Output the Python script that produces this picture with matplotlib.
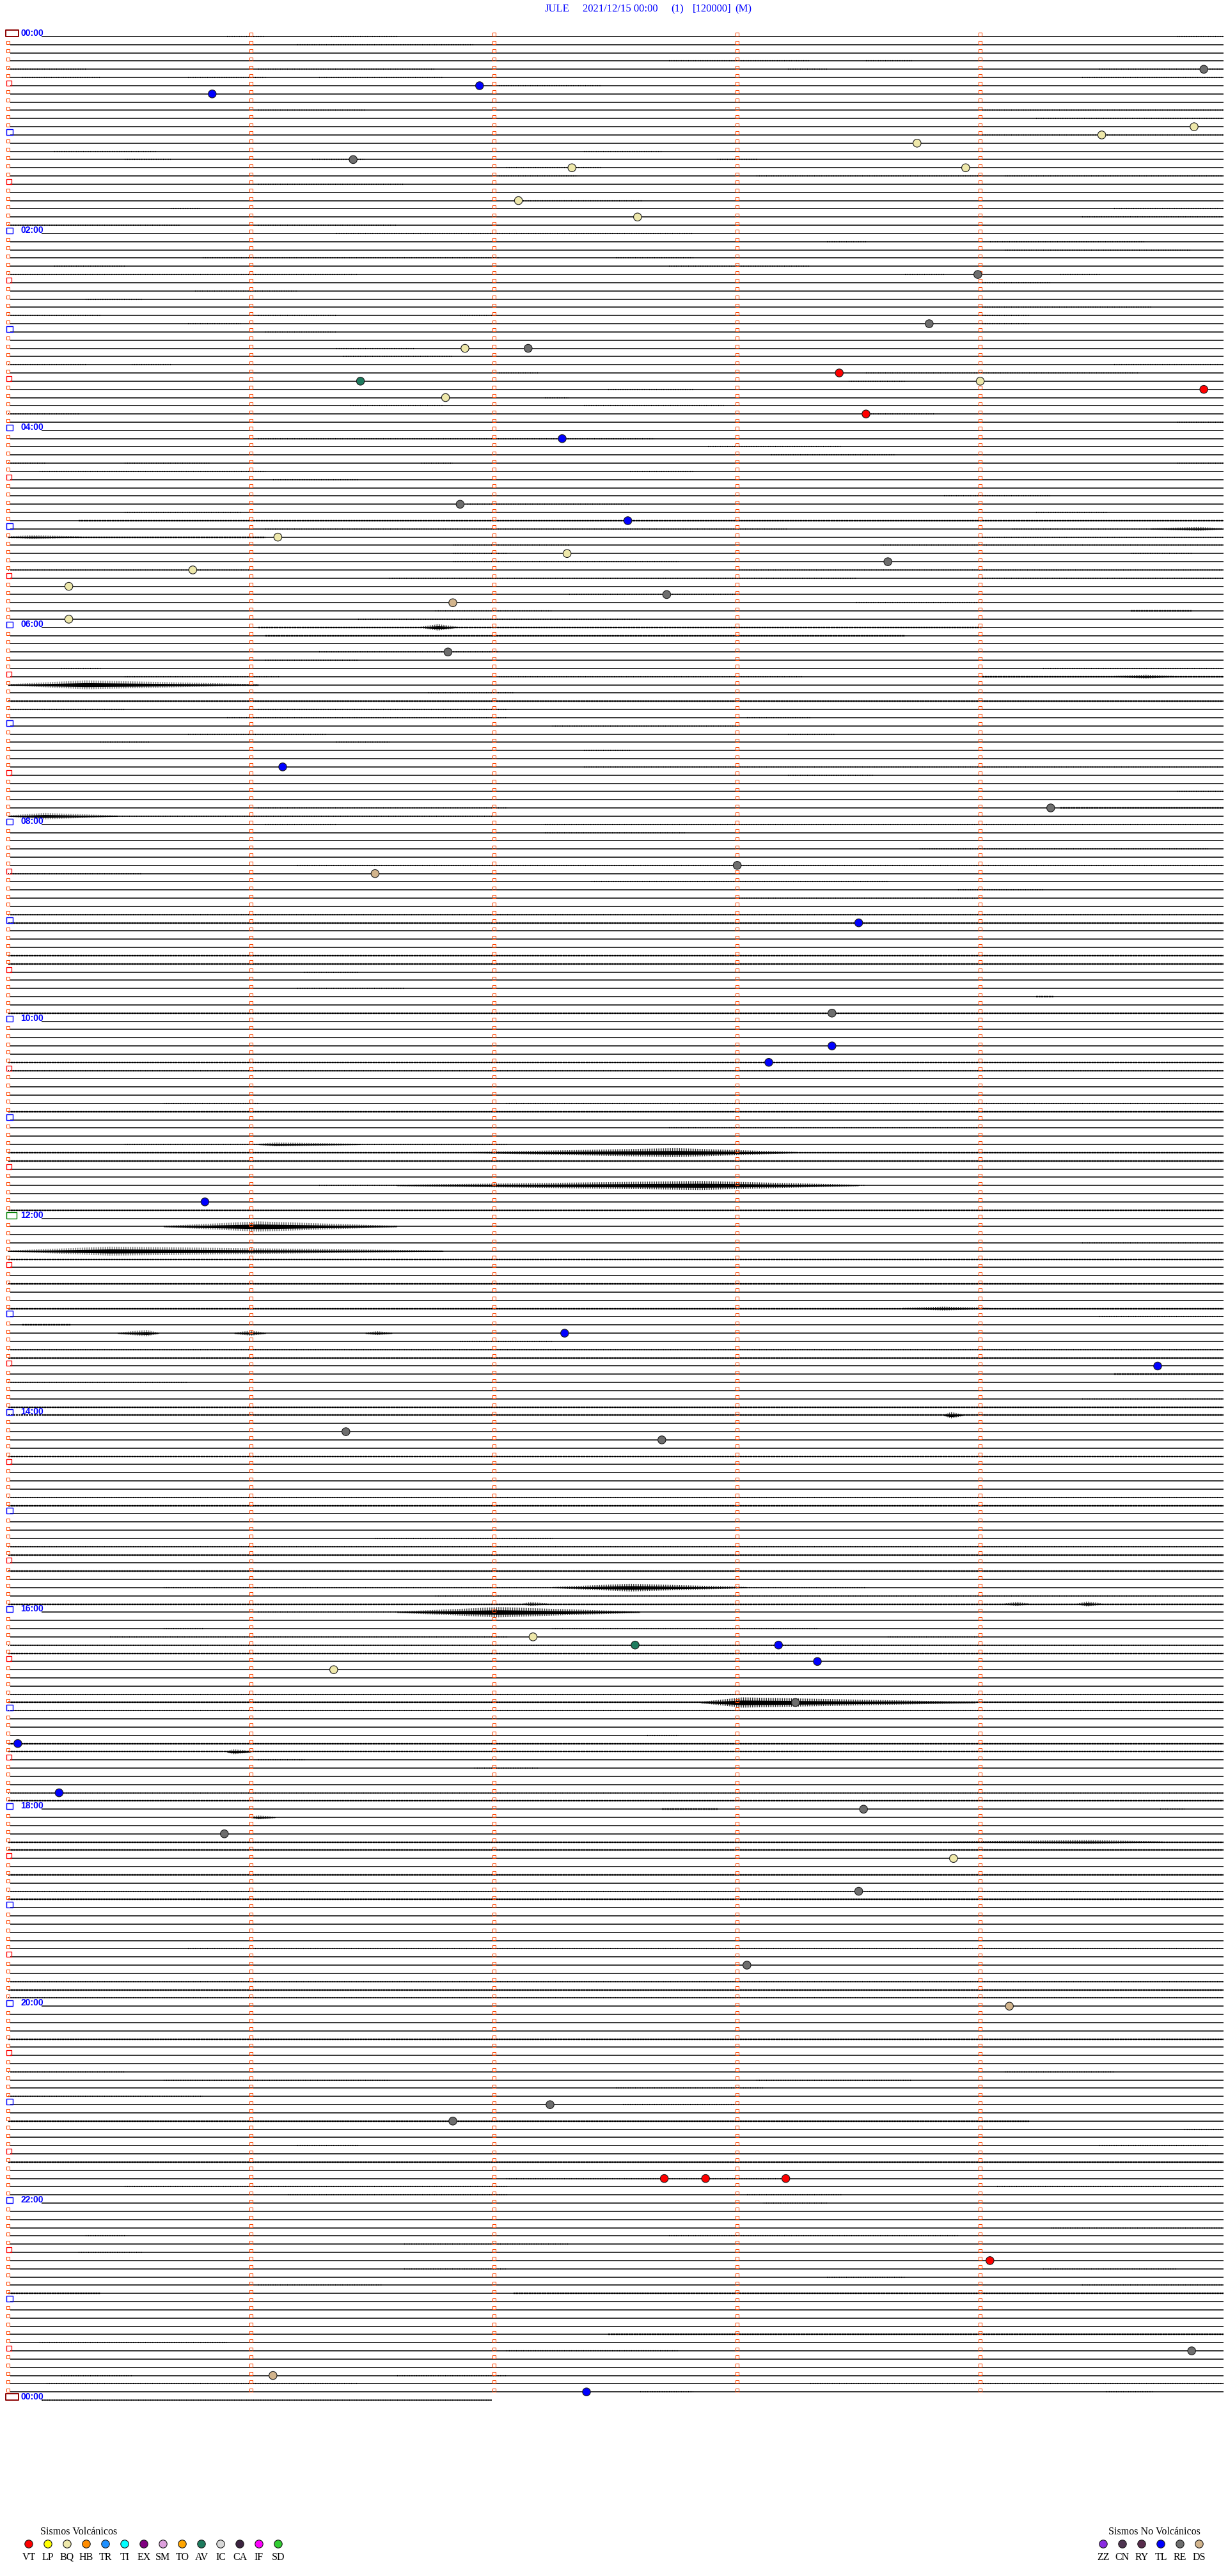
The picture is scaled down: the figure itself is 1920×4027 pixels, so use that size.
import matplotlib
matplotlib.use("Agg")
import matplotlib.pyplot as plt
from matplotlib.collections import LineCollection, PatchCollection
from matplotlib.patches import Rectangle

# --- page geometry (pixels) ---
W, H, DPI = 1920, 4027, 100
X0, MIN_W = 12.6, 380.0      # x of minute 0, pixels per minute
Y0, LINE_H = 57.0, 12.83     # y of first trace, pixels per 5-minute trace
N_LINES = 289                # 00:00 .. 24:00, one trace every 5 min

# --- events: trace index, minute inside the trace, class ---
ev_line = [4, 6, 7, 11, 12, 13, 15, 16, 16, 20, 22, 29, 35, 38, 38, 41, 42, 42, 43, 44, 46, 49, 57,
           59, 61, 63, 64, 65, 67, 68, 69, 71, 75, 89, 94, 101, 102, 108,
           119, 123, 125, 142, 158, 162, 170, 171,
           195, 196, 196, 198, 199, 203, 208, 214, 216, 219, 222, 226,
           235, 240, 252, 254, 261, 261, 261, 271, 282, 285, 287]
ev_min = [4.92, 1.94, 0.84, 4.88, 4.50, 3.74, 1.42, 2.32, 3.94, 2.10, 2.59, 3.99, 3.79, 1.88, 2.14,
          3.42, 1.45, 4.00, 4.92, 1.80, 3.53, 2.28, 1.86,
          2.55, 1.11, 2.30, 3.62, 0.76, 0.25, 2.71, 1.83, 0.25, 1.81, 1.13, 4.29, 3.00, 1.51, 3.50,
          3.39, 3.39, 3.13, 0.81, 2.29, 4.73, 1.39, 2.69,
          2.16, 2.58, 3.17, 3.33, 1.34, 3.24, 0.04, 0.21, 3.52, 0.89, 3.89, 3.50,
          3.04, 4.12, 2.23, 1.83, 2.70, 2.87, 3.20, 4.04, 4.87, 1.09, 2.38]
ev_type = ['RE', 'TL', 'TL', 'BQ', 'BQ', 'BQ', 'RE', 'BQ', 'BQ', 'BQ', 'BQ', 'RE', 'RE', 'BQ', 'RE',
           'VT', 'AV', 'BQ', 'VT', 'BQ', 'VT', 'TL', 'RE',
           'TL', 'BQ', 'BQ', 'RE', 'BQ', 'BQ', 'RE', 'DS', 'BQ', 'RE', 'TL', 'RE', 'RE', 'DS', 'TL',
           'RE', 'TL', 'TL', 'TL', 'TL', 'TL', 'RE', 'RE',
           'BQ', 'AV', 'TL', 'TL', 'BQ', 'RE', 'TL', 'TL', 'RE', 'RE', 'BQ', 'RE',
           'RE', 'DS', 'RE', 'RE', 'VT', 'VT', 'VT', 'VT', 'RE', 'DS', 'TL']

# --- legend classes ---
volc_codes = ['VT', 'LP', 'BQ', 'HB', 'TR', 'TI', 'EX', 'SM', 'TO', 'AV', 'IC', 'CA', 'IF', 'SD']
novolc_codes = ['ZZ', 'CN', 'RY', 'TL', 'RE', 'DS']
class_colors = {
    'VT': '#FF0000', 'LP': '#FFFF00', 'BQ': '#EEE8AA', 'HB': '#FF8C00', 'TR': '#1E90FF',
    'TI': '#00FFFF', 'EX': '#800080', 'SM': '#DDA0DD', 'TO': '#FFA500', 'AV': '#1E7B5E',
    'IC': '#D8D8D8', 'CA': '#3C2440', 'IF': '#FF00FF', 'SD': '#32CD32',
    'ZZ': '#8A2BE2', 'CN': '#4E3450', 'RY': '#582C4C', 'TL': '#0000FF', 'RE': '#6E6E6E',
    'DS': '#D2B48C',
}

# --- background noise on the traces: (trace, from min, to min, level 1 light / 2 dense) ---
noise_segments = [
    (0, 0.90, 1.06, 1), (0, 1.33, 1.60, 1), (0, 4.81, 5.0, 1), (1, 1.19, 1.92, 1),
    (3, 2.72, 3.30, 1), (3, 3.53, 3.72, 1), (4, 0.0, 0.32, 1), (4, 1.03, 1.76, 1),
    (4, 3.21, 3.37, 1), (4, 4.49, 5.0, 1), (5, 0.06, 0.38, 1), (5, 0.74, 1.06, 1),
    (5, 1.28, 1.79, 1), (5, 4.42, 5.0, 1), (6, 2.02, 2.44, 1), (9, 1.03, 1.47, 1),
    (9, 4.01, 5.0, 1), (10, 4.23, 5.0, 1), (12, 4.01, 5.0, 1), (14, 0.19, 0.61, 1),
    (14, 2.37, 2.69, 1), (15, 0.48, 0.67, 1), (15, 1.25, 1.47, 1), (15, 2.92, 3.08, 1),
    (16, 2.05, 2.44, 1), (17, 2.02, 2.34, 1), (17, 3.08, 4.01, 1), (17, 4.10, 5.0, 1),
    (18, 1.03, 1.63, 1), (20, 2.12, 2.61, 1), (21, 0.67, 0.79, 1), (21, 4.55, 5.0, 1),
    (22, 4.42, 5.0, 1), (23, 0.0, 0.71, 1), (23, 1.03, 1.60, 1), (24, 1.35, 2.82, 1),
    (25, 3.37, 3.53, 1), (25, 4.04, 4.68, 1), (26, 4.10, 4.87, 1), (27, 0.80, 2.02, 1),
    (27, 2.50, 2.82, 1), (28, 0.19, 0.48, 1), (28, 2.72, 3.30, 1), (29, 0.0, 1.44, 1),
    (29, 3.69, 3.85, 1), (29, 4.33, 4.49, 1), (30, 4.01, 4.29, 1), (31, 0.77, 1.19, 1),
    (32, 0.32, 0.55, 1), (33, 4.01, 4.71, 1), (34, 0.0, 0.38, 1), (34, 1.03, 1.35, 1),
    (34, 1.86, 1.99, 1), (34, 4.01, 4.20, 1), (35, 0.74, 0.96, 1), (35, 4.01, 4.20, 1),
    (36, 1.06, 1.35, 1), (38, 1.35, 1.67, 1), (39, 1.38, 1.83, 1), (40, 0.0, 0.32, 1),
    (40, 0.51, 0.67, 1), (40, 4.55, 5.0, 1), (41, 2.02, 2.18, 1), (41, 3.53, 4.65, 1),
    (42, 3.46, 3.69, 1), (43, 2.47, 2.82, 1), (44, 2.21, 2.31, 1), (45, 1.41, 1.79, 1),
    (45, 2.37, 2.95, 1), (46, 0.0, 0.29, 1), (46, 3.53, 3.81, 1), (47, 4.81, 5.0, 1),
    (49, 1.03, 2.66, 1), (50, 2.88, 3.43, 1), (51, 3.14, 3.65, 1), (52, 0.0, 0.16, 1),
    (52, 0.48, 0.83, 1), (52, 1.70, 1.83, 1), (52, 4.81, 5.0, 1), (53, 0.13, 1.06, 1),
    (53, 2.56, 2.82, 1), (54, 1.09, 1.44, 1), (56, 3.85, 4.29, 1), (57, 1.89, 2.56, 1),
    (58, 0.48, 0.96, 1), (58, 4.23, 4.52, 1), (59, 0.29, 5.0, 2), (60, 1.06, 3.21, 1),
    (60, 4.13, 5.0, 1), (61, 0.0, 1.06, 2), (61, 4.01, 5.0, 1), (62, 1.83, 2.31, 1),
    (62, 3.59, 5.0, 1), (63, 1.83, 2.05, 1), (63, 4.62, 4.87, 1), (64, 1.83, 2.76, 1),
    (65, 0.0, 0.99, 1), (65, 3.01, 5.0, 1), (66, 1.57, 3.49, 1), (66, 4.01, 5.0, 1),
    (68, 2.31, 3.01, 1), (69, 3.49, 4.01, 1), (70, 1.76, 2.24, 1), (70, 4.62, 4.87, 2),
    (71, 1.44, 2.60, 1), (72, 1.03, 4.01, 2), (73, 1.06, 3.69, 2), (75, 1.28, 2.02, 1),
    (76, 1.06, 1.44, 1), (77, 0.22, 0.38, 1), (77, 4.26, 5.0, 1), (78, 0.48, 1.12, 1),
    (78, 2.02, 3.27, 1), (78, 4.01, 5.0, 2), (79, 0.0, 1.03, 2), (80, 1.73, 2.08, 1),
    (81, 0.0, 5.0, 2), (82, 0.0, 0.48, 1), (82, 1.03, 2.05, 1), (83, 0.90, 2.05, 1),
    (83, 3.04, 3.30, 1), (84, 2.24, 3.01, 1), (85, 0.74, 1.31, 1), (85, 3.21, 3.40, 1),
    (86, 0.38, 0.58, 1), (86, 1.35, 1.57, 1), (87, 2.37, 2.56, 1), (89, 2.37, 5.0, 1),
    (90, 3.21, 3.56, 1), (92, 4.81, 5.0, 1), (94, 1.03, 2.05, 1), (94, 4.33, 5.0, 2),
    (95, 0.42, 1.99, 1), (96, 1.06, 1.35, 1), (96, 2.21, 5.0, 1), (97, 2.21, 2.79, 1),
    (99, 3.75, 4.94, 1), (101, 1.19, 5.0, 1), (102, 0.0, 0.55, 1), (103, 2.40, 3.62, 1),
    (104, 3.91, 4.26, 1), (105, 3.01, 4.01, 1), (107, 0.0, 5.0, 1), (108, 0.0, 5.0, 2),
    (112, 0.0, 5.0, 2), (113, 0.0, 5.0, 2), (114, 1.22, 1.44, 1), (116, 1.19, 1.63, 1),
    (117, 4.23, 4.30, 2), (119, 0.0, 5.0, 2), (125, 0.0, 5.0, 2), (126, 0.0, 5.0, 1),
    (130, 0.64, 1.03, 1), (130, 2.05, 5.0, 1), (131, 0.0, 5.0, 2), (133, 2.72, 4.01, 1),
    (135, 0.48, 2.05, 1), (136, 0.0, 5.0, 2), (137, 0.0, 5.0, 2), (140, 1.28, 3.53, 1),
    (143, 0.0, 5.0, 2), (145, 0.64, 1.60, 1), (147, 4.42, 5.0, 1), (148, 0.0, 1.79, 1),
    (149, 0.0, 5.0, 2), (152, 0.0, 5.0, 2), (155, 0.0, 5.0, 2), (156, 4.49, 5.0, 1),
    (157, 0.06, 0.26, 2), (159, 1.86, 2.24, 1), (160, 0.0, 5.0, 1), (161, 0.0, 5.0, 2),
    (163, 4.55, 5.0, 2), (164, 0.0, 0.74, 1), (166, 4.42, 5.0, 1), (167, 0.0, 5.0, 2),
    (168, 0.0, 5.0, 2), (173, 0.0, 5.0, 2), (178, 0.0, 5.0, 1), (179, 0.0, 5.0, 2),
    (183, 1.51, 2.24, 1), (184, 0.0, 5.0, 1), (185, 0.0, 5.0, 2), (187, 0.0, 5.0, 2),
    (189, 0.64, 3.53, 1), (190, 1.76, 5.0, 1), (191, 0.0, 5.0, 2), (192, 1.03, 2.60, 1),
    (194, 0.64, 0.80, 1), (194, 2.24, 3.33, 1), (195, 0.42, 2.05, 1), (195, 3.62, 4.01, 1),
    (196, 0.0, 5.0, 1), (197, 0.0, 5.0, 2), (202, 0.0, 5.0, 1), (203, 0.0, 5.0, 2),
    (204, 0.0, 5.0, 1), (207, 2.63, 2.76, 1), (208, 0.0, 5.0, 2), (209, 0.0, 5.0, 2),
    (210, 1.03, 1.22, 1), (211, 1.92, 2.18, 1), (214, 0.0, 5.0, 1), (215, 0.0, 5.0, 2),
    (216, 2.69, 2.92, 2), (216, 4.74, 4.84, 1), (220, 0.0, 5.0, 2), (221, 0.0, 5.0, 2),
    (224, 0.0, 5.0, 2), (226, 0.0, 5.0, 1), (227, 0.0, 5.0, 2), (233, 0.74, 5.0, 1),
    (237, 0.0, 5.0, 1), (238, 0.0, 5.0, 2), (239, 0.0, 5.0, 1), (244, 0.0, 5.0, 2),
    (248, 0.0, 0.48, 1), (248, 4.10, 4.55, 1), (249, 0.64, 1.57, 1), (249, 3.08, 3.72, 1),
    (250, 2.50, 3.11, 1), (251, 0.0, 0.80, 1), (252, 2.53, 3.01, 1), (254, 0.0, 4.20, 2),
    (255, 4.84, 5.0, 1), (257, 1.19, 1.44, 1), (257, 4.49, 4.94, 1), (259, 0.0, 5.0, 2),
    (261, 2.05, 3.21, 1), (262, 0.48, 2.05, 1), (262, 4.07, 5.0, 1), (263, 1.15, 2.05, 1),
    (263, 3.04, 3.43, 1), (264, 3.11, 3.37, 1), (267, 4.29, 5.0, 1), (268, 0.32, 0.48, 1),
    (268, 2.72, 3.91, 1), (269, 1.63, 2.31, 1), (270, 0.29, 0.55, 1), (272, 1.63, 2.05, 1),
    (272, 4.26, 4.81, 1), (273, 3.37, 3.69, 1), (274, 1.03, 1.54, 1), (274, 4.42, 5.0, 1),
    (275, 0.0, 0.38, 2), (275, 2.08, 5.0, 2), (280, 2.47, 5.0, 2), (281, 0.13, 0.90, 1),
    (282, 2.05, 2.76, 1), (285, 0.22, 0.51, 1), (285, 1.60, 2.05, 1), (286, 0.16, 1.44, 1),
    (286, 3.30, 5.0, 1), (287, 2.60, 2.82, 1), (287, 4.52, 4.71, 1), (288, 0.14, 1.99, 1),
]

# --- larger signals: (trace, onset min, peak min, end min, half amplitude px) ---
bursts = [
    (60, 4.70, 4.90, 5.0, 3), (61, 0.0, 0.10, 0.30, 3), (72, 1.70, 1.77, 1.85, 5),
    (78, 4.55, 4.68, 4.80, 3), (79, 0.0, 0.32, 1.03, 7), (95, 0.0, 0.15, 0.45, 5),
    (135, 1.03, 1.10, 1.45, 3), (136, 1.90, 2.75, 3.25, 7), (140, 1.60, 2.85, 3.50, 7),
    (145, 0.64, 1.03, 1.60, 8), (148, 0.0, 0.42, 1.79, 7), (155, 3.68, 3.85, 4.04, 3),
    (158, 0.45, 0.57, 0.62, 5), (158, 0.93, 1.0, 1.06, 4), (158, 1.47, 1.52, 1.58, 3),
    (168, 3.85, 3.88, 3.93, 5), (189, 2.24, 2.56, 3.04, 6), (191, 2.12, 2.15, 2.22, 3),
    (191, 4.10, 4.15, 4.20, 3), (191, 4.40, 4.44, 4.50, 4), (192, 1.60, 2.02, 2.60, 8),
    (203, 2.85, 3.02, 3.98, 8), (209, 0.90, 0.93, 1.0, 4), (217, 1.0, 1.03, 1.10, 3),
    (220, 3.88, 4.45, 4.75, 3),
]

title_parts = ['JULE', '2021/12/15 00:00', '(1)', '[120000]', '(M)']

px_x = 1.0 / MIN_W   # one pixel in minutes
px_y = 1.0 / LINE_H  # one pixel in trace units

plt.rcParams['hatch.linewidth'] = 0.6

fig = plt.figure(figsize=(W / DPI, H / DPI), dpi=DPI)
ax = fig.add_axes([0, 0, 1, 1])
ax.set_xlim(-X0 / MIN_W, (W - X0) / MIN_W)
ax.set_ylim((H - Y0) / LINE_H, -Y0 / LINE_H)
ax.axis('off')

# base traces
segs = []
for i in range(N_LINES):
    start = 52 * px_x if i % 24 == 0 else 3 * px_x
    end = 1.99 if i == N_LINES - 1 else 5.0
    segs.append([(start, i), (end, i)])
ax.add_collection(LineCollection(segs, colors='black', linewidths=1.1, zorder=2))

# background noise (small ticks along the trace)
light = [[(a, l), (b, l)] for l, a, b, lev in noise_segments if lev == 1]
dense = [[(a, l), (b, l)] for l, a, b, lev in noise_segments if lev == 2]
ax.add_collection(LineCollection(light, colors='black', linewidths=1.5,
                                 linestyles=[(0, (0.5, 1.3))], zorder=2))
ax.add_collection(LineCollection(dense, colors='black', linewidths=1.7,
                                 linestyles=[(0, (1.2, 0.5))], zorder=2))

# bursts: amplitude envelope filled with fine vertical strokes
for l, a, p, b, amp in bursts:
    xs = [a, p, b]
    hs = [1.0 * px_y, amp * px_y, 1.0 * px_y]
    ax.fill_between(xs, [l - h for h in hs], [l + h for h in hs],
                    facecolor='none', edgecolor='black', hatch='||||||', lw=0, zorder=3)
    ax.fill_between(xs, [l - 0.45 * h for h in hs], [l + 0.45 * h for h in hs],
                    color='black', lw=0, zorder=3)

# minute / hour markers
rects, edges, widths = [], [], []
for i in range(N_LINES):
    if i == 0 or i == N_LINES - 1:
        rects.append(Rectangle((-3.2 * px_x, i - 10 * px_y), 20 * px_x, 10 * px_y))
        edges.append('#8B0000'); widths.append(1.4)
    elif i == 144:
        rects.append(Rectangle((-2.6 * px_x, i - 10 * px_y), 16 * px_x, 10 * px_y))
        edges.append('#008000'); widths.append(1.0)
    elif i % 12 == 0:
        rects.append(Rectangle((-2.6 * px_x, i - 9 * px_y), 10 * px_x, 9 * px_y))
        edges.append('#0000FF'); widths.append(1.0)
    elif i % 6 == 0:
        rects.append(Rectangle((-2.4 * px_x, i - 8 * px_y), 8 * px_x, 8 * px_y))
        edges.append('#FF0000'); widths.append(0.9)
    else:
        rects.append(Rectangle((-2.4 * px_x, i - 5.5 * px_y), 5 * px_x, 5 * px_y))
        edges.append('#FF4500'); widths.append(0.75)
    if i < N_LINES - 1:
        for c in range(1, 5):
            rects.append(Rectangle((c - 2.5 * px_x, i - 5.5 * px_y), 5 * px_x, 5 * px_y))
            edges.append('#FF4500'); widths.append(0.75)
ax.add_collection(PatchCollection(rects, facecolors='none', edgecolors=edges,
                                  linewidths=widths, zorder=4))

# hour labels every two hours
label_font = ['Liberation Sans Narrow', 'Liberation Sans', 'DejaVu Sans']
for i in range(0, N_LINES, 24):
    hh = (i // 12) % 24
    ax.text(19.5 * px_x, i - 1 * px_y, f'{hh:02d}:00', color='#0000FF',
            fontsize=10, fontweight='bold', family=label_font,
            ha='left', va='baseline', zorder=5)

# events
ax.scatter(ev_min, ev_line, s=80, c=[class_colors[t] for t in ev_type],
           edgecolors='#1a1a1a', linewidths=0.8, zorder=6)

# overlay in pixel units for title and legends
ov = fig.add_axes([0, 0, 1, 1])
ov.set_xlim(0, W)
ov.set_ylim(H, 0)
ov.axis('off')
ov.patch.set_alpha(0)

serif = ['Liberation Serif', 'DejaVu Serif']
title_x = [852, 911, 1049, 1083, 1149]
for s, x in zip(title_parts, title_x):
    ov.text(x, 18, s, color='#0000FF', fontsize=12, family=serif, va='baseline', ha='left')

ov.text(63, 3962, 'Sismos Volcánicos', fontsize=11.5, family=serif, va='baseline', ha='left')
vx = [45 + 30 * k for k in range(len(volc_codes))]
ov.scatter(vx, [3977] * len(vx), s=80, c=[class_colors[c] for c in volc_codes],
           edgecolors='#1a1a1a', linewidths=0.8)
for x, c in zip(vx, volc_codes):
    ov.text(x, 4001.5, c, fontsize=11.5, family=serif, va='baseline', ha='center')

ov.text(1733, 3962, 'Sismos No Volcánicos', fontsize=11.5, family=serif, va='baseline', ha='left')
nx = [1725 + 30 * k for k in range(len(novolc_codes))]
ov.scatter(nx, [3977] * len(nx), s=80, c=[class_colors[c] for c in novolc_codes],
           edgecolors='#1a1a1a', linewidths=0.8)
for x, c in zip(nx, novolc_codes):
    ov.text(x, 4001.5, c, fontsize=11.5, family=serif, va='baseline', ha='center')

fig.savefig('out.png', dpi=DPI, facecolor='white')
